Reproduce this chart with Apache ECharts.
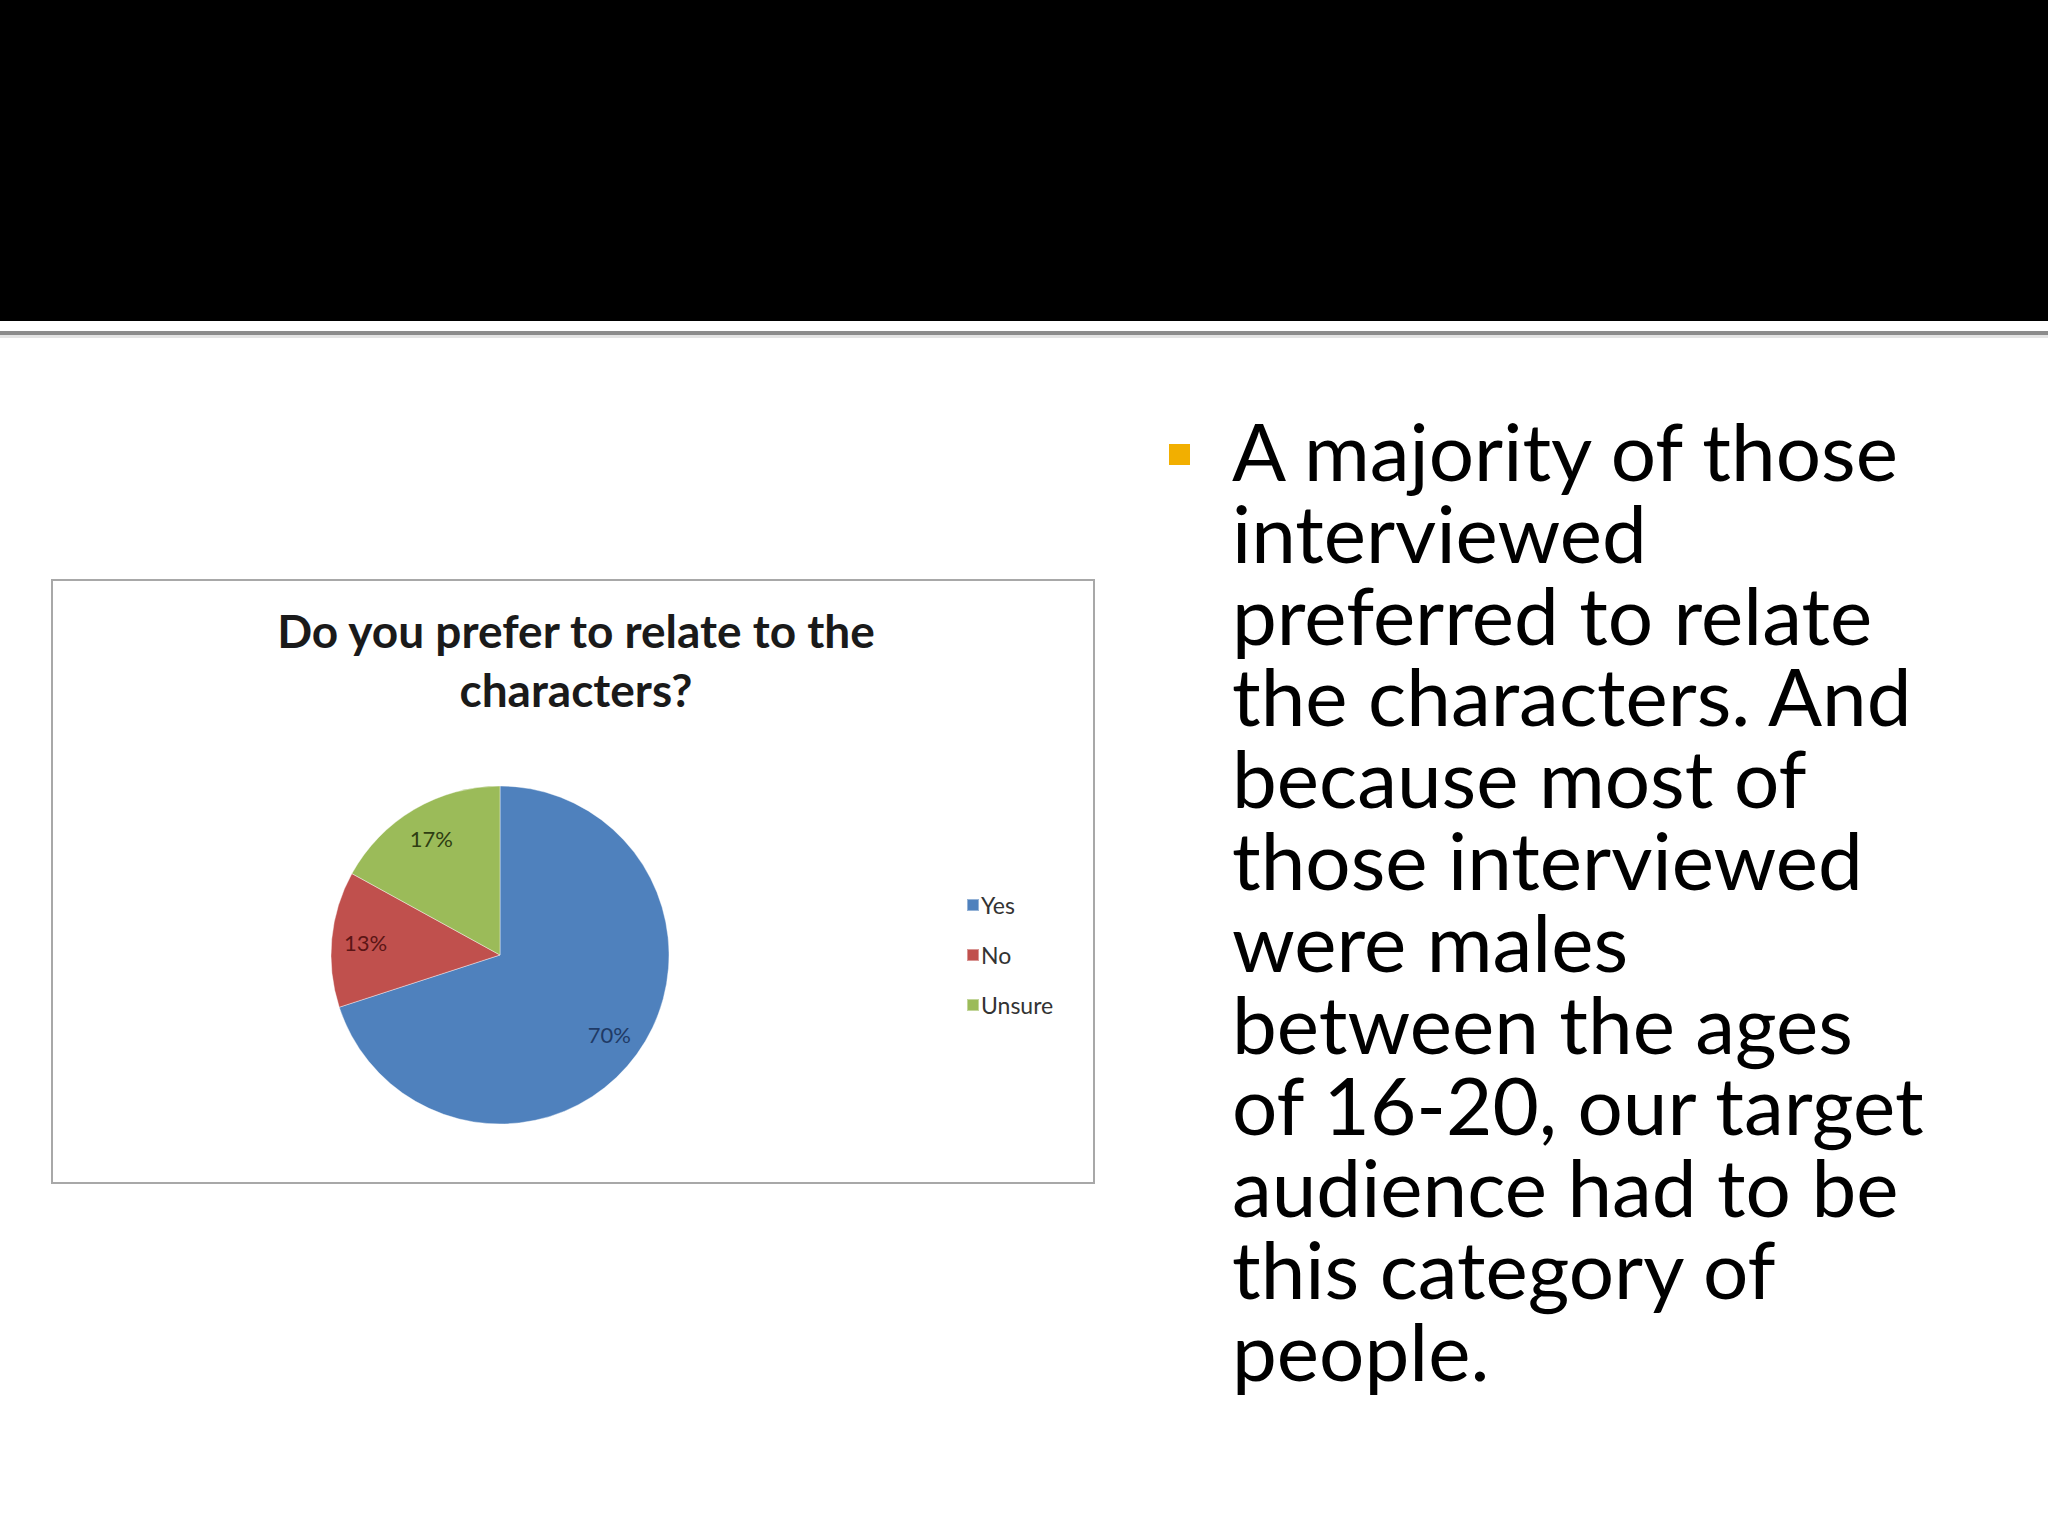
<!DOCTYPE html>
<html>
<head>
<meta charset="utf-8">
<script src="https://cdn.jsdelivr.net/npm/echarts@6/dist/echarts.min.js"></script>
<style>
html,body{margin:0;padding:0;background:#fff;}
#c{width:2048px;height:1536px;}
</style>
</head>
<body>
<div id="c"></div>
<script>
// ---- data ----
const chartTitle = "Do you prefer to relate to the\ncharacters?";
const categories = ["Yes", "No", "Unsure"];
const shares = [70, 13, 17];
const sliceColors = ["#4F81BD", "#C0504D", "#9BBB59"];
const labelColors = ["#1F3A66", "#5A1515", "#2E3D12"];
const bulletLines = [
  "A majority of those",
  "interviewed",
  "preferred to relate",
  "the characters. And",
  "because most of",
  "those interviewed",
  "were males",
  "between the ages",
  "of 16-20, our target",
  "audience had to be",
  "this category of",
  "people."
];

// ---- layout ----
const FONT = "Lato, 'Open Sans', sans-serif";
const pieCenter = [500, 955];
const pieR = 169;
const lineY0 = 450, lineStep = 81.8, textX = 1232;

const chart = echarts.init(document.getElementById('c'), null, {renderer: 'svg'});

const pieData = categories.map((n, i) => ({
  name: n, value: shares[i], itemStyle: {color: sliceColors[i]}
}));
const labelData = categories.map((n, i) => ({
  name: n, value: shares[i],
  label: {color: labelColors[i]}
}));

const graphics = [
  {type: 'rect', shape: {x: 0, y: 0, width: 2048, height: 321}, style: {fill: '#000'}, z: -10},
  {type: 'rect', shape: {x: 0, y: 331, width: 2048, height: 4}, style: {fill: '#8c8c8c'}, z: -10},
  {type: 'rect', shape: {x: 0, y: 335, width: 2048, height: 3}, style: {fill: '#e4e4e4'}, z: -10},
  {type: 'rect', shape: {x: 52, y: 580, width: 1042, height: 603},
   style: {fill: '#fff', stroke: '#a8a8a8', lineWidth: 2}, z: -5},
  {type: 'rect', shape: {x: 1169, y: 444, width: 21, height: 21}, style: {fill: '#F2AF00'}}
];
bulletLines.forEach((t, i) => {
  graphics.push({
    type: 'text', x: textX, y: lineY0 + i * lineStep,
    style: {text: t, fill: '#000', font: '80px ' + FONT, lineHeight: 78,
            textVerticalAlign: 'middle', verticalAlign: 'middle'}
  });
});

chart.setOption({
  animation: false,
  backgroundColor: '#fff',
  title: {
    text: chartTitle,
    left: 571, top: 596, textAlign: 'center',
    textStyle: {fontFamily: FONT, fontWeight: 'bold', fontSize: 46, lineHeight: 59, color: '#1a1a1a'}
  },
  legend: {
    orient: 'vertical',
    left: 961, top: 888,
    itemWidth: 12, itemHeight: 12, itemGap: 26,
    icon: 'rect',
    textStyle: {fontFamily: FONT, fontSize: 23, color: '#333', lineHeight: 24, padding: [0, 0, 0, -3]},
    data: categories.map((n, i) => ({name: n, itemStyle: {color: sliceColors[i]}}))
  },
  graphic: graphics,
  series: [
    {
      type: 'pie', name: 'main',
      center: pieCenter, radius: pieR,
      startAngle: 90, clockwise: true,
      label: {show: false}, labelLine: {show: false},
      itemStyle: {borderColor: 'rgba(255,255,255,0.4)', borderWidth: 1},
      emphasis: {disabled: true},
      data: pieData
    },
    {
      type: 'pie', name: 'labels', silent: true,
      center: pieCenter, radius: [95, pieR],
      startAngle: 90, clockwise: true,
      itemStyle: {color: 'rgba(0,0,0,0)'},
      label: {show: true, position: 'inside', formatter: '{c}%', fontFamily: FONT, fontSize: 22},
      labelLine: {show: false},
      emphasis: {disabled: true},
      data: labelData
    }
  ]
});
</script>
</body>
</html>
